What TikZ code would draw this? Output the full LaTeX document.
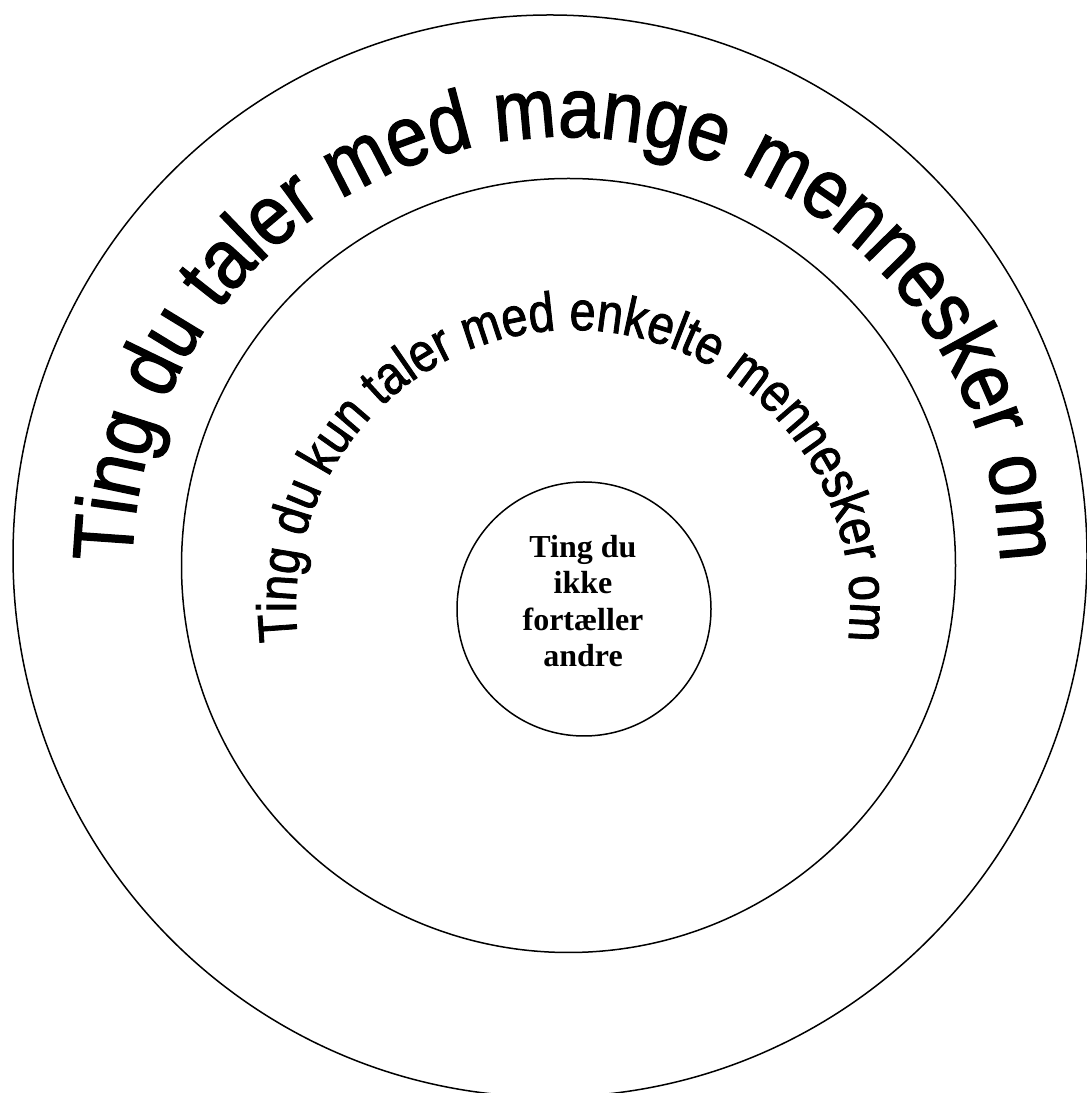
\documentclass[tikz,border=0pt]{standalone}
\usepackage{fontspec}
\setmainfont{Liberation Serif}
\newfontfamily\arcfont{Liberation Sans}[FakeStretch=0.88,FakeBold=1.5]
\newfontfamily\midarcfont{Liberation Sans}[FakeStretch=0.85,FakeBold=1.5]
\usetikzlibrary{decorations.text}
\begin{document}
\begin{tikzpicture}[x=1pt,y=1pt,
  ring/.style={draw=black, line width=1.5pt},
  arctext/.style={decorate, decoration={text along path, text align=center, text={#1}}}]
\useasboundingbox (0,0) rectangle (1087,1093);
\clip (0,0) rectangle (1087,1093);
\draw[ring] (550,537) ellipse[x radius=537pt, y radius=541pt];
\draw[ring] (568.5,527.5) circle[radius=387pt];
\draw[ring] (584,484) circle[radius=127pt];
\path[arctext={|\arcfont\fontsize{85}{85}\selectfont|Ting du taler med mange mennesker om}]
  (566,522) ++(180:434pt) arc[start angle=180, end angle=0, radius=434pt];
\path[arctext={|\midarcfont\fontsize{55}{55}\selectfont|Ting du kun taler med enkelte mennesker om}]
  (573,486) ++(200:277pt) arc[start angle=200, end angle=-20, radius=277pt];
\node[align=center, font=\bfseries\fontsize{32}{36.5}\selectfont] (core) at (583,492) {Ting du\\ikke\\fortæller\\andre};
\end{tikzpicture}
\end{document}
